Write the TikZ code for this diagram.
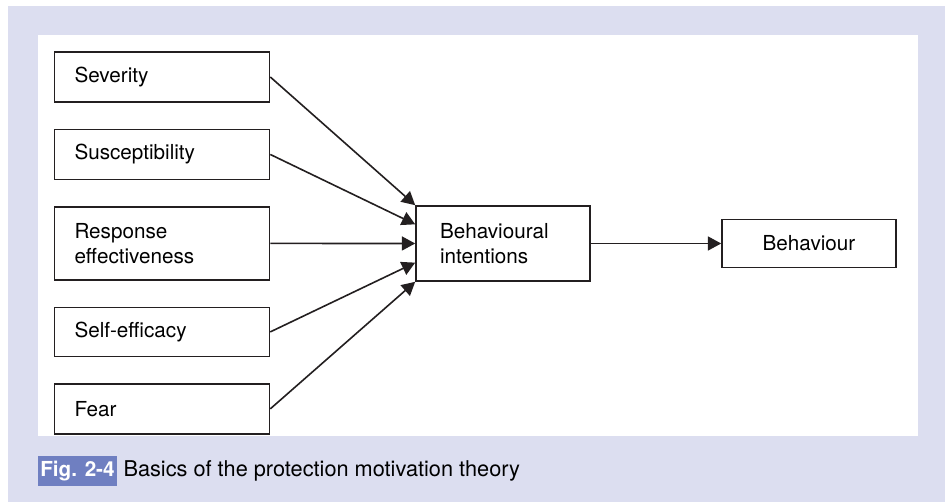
\documentclass[tikz,border=0pt]{standalone}
\usepackage{fontspec}
\setmainfont{TeX Gyre Heros}
\usetikzlibrary{positioning, calc, arrows.meta}
\definecolor{panelbg}{RGB}{220,222,240}
\definecolor{figblue}{RGB}{111,127,193}
\definecolor{inkgray}{RGB}{35,31,32}

\begin{document}
\begin{tikzpicture}[x=0.75pt, y=0.75pt, node distance=19.4pt,
    factor/.style={rectangle, draw=inkgray, line width=1.2pt, minimum width=161.25pt, minimum height=37.5pt, text width=131.25pt, inner xsep=15pt, inner ysep=0pt, align=left, font=\fontsize{15.5}{18.7}\selectfont},
    link/.style={draw=inkgray, line width=1.2pt, -{Triangle[length=10pt, width=10.5pt]}}]
        % Background panel
        \fill[panelbg] (8,0) rectangle (945,496);
        \fill[white] (38,66) rectangle (918,467);
        \useasboundingbox (0,0) rectangle (945,502);

        % Define nodes
        \node (severity) [factor] at (162,425) {Severity};
        \node (susceptibility) [factor, below=of severity] {Susceptibility};
        \node (response) [factor, below=of susceptibility, minimum height=54.75pt] {Response\\effectiveness};
        \node (selfefficacy) [factor, below=of response, minimum height=36.75pt] {Self-efficacy};
        \node (fear) [factor, below=of selfefficacy] {Fear};
        \node (intentions) [factor, minimum width=130.5pt, text width=94.5pt, inner xsep=18pt, minimum height=56.25pt] at (503,258.5) {Behavioural\\intentions};
        \node (behaviour) [factor, right=97.8pt of intentions, minimum width=130.5pt, text width=94.5pt, inner xsep=18pt, minimum height=36pt, align=center] {Behaviour};

        % Caption
        \node (figtag) [fill=figblue, text=white, font=\fontsize{15.5}{17}\selectfont\bfseries, minimum width=59.25pt, minimum height=22.5pt, inner sep=0pt] at (77.5,31) {Fig. 2-4};
        \node (caption) [anchor=base west, inner sep=0pt, font=\fontsize{16.3}{18}\selectfont] at ($(figtag.base east)+(4.5pt,0)$) {Basics of the protection motivation theory};

        % Draw arrows
        \draw[link] (severity.east) -- (intentions.north west);
        \draw[link] (susceptibility.east) -- ($(intentions.north west)!0.25!(intentions.south west)$);
        \draw[link] (response.east) -- (intentions.west);
        \draw[link] (selfefficacy.east) -- ($(intentions.north west)!0.75!(intentions.south west)$);
        \draw[link] (fear.east) -- (intentions.south west);
        \draw[link] (intentions) -- (behaviour);
\end{tikzpicture}
\end{document}
